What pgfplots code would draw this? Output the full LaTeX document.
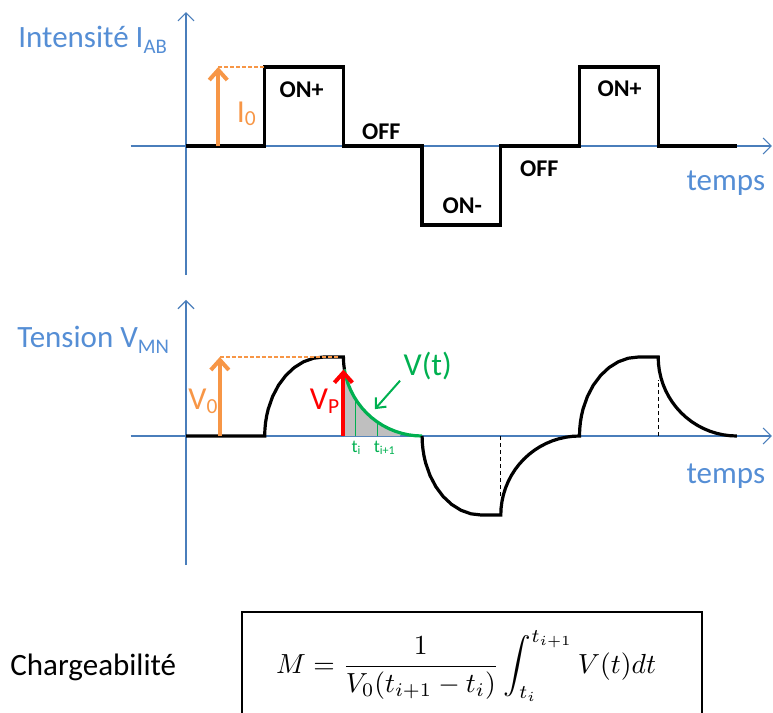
\documentclass[border=0pt]{standalone}
\usepackage{pgfplots}
\pgfplotsset{compat=1.18}
\usepackage{fontspec}
\setmainfont{Carlito}
\usepackage{graphicx}
\usetikzlibrary{arrows.meta}

\definecolor{lblue}{HTML}{558ED5}
\definecolor{axblue}{HTML}{4A7EBB}
\definecolor{orng}{HTML}{F79646}
\definecolor{grn}{HTML}{00B050}
\definecolor{shade}{HTML}{BFBFBF}

% lowered, smaller text for the subscripts
\newcommand{\lo}[2][0.2em]{\raisebox{-#1}{\scalebox{0.67}{#2}}}

\pgfplotsset{
  panel/.style={
    anchor=origin, x=39.35pt, y=39.5pt,
    xmin=-0.703, xmax=7.446,
    axis lines=middle, enlargelimits=false, ticks=none, clip=false,
    axis line style={axblue, line width=0.6pt},
    every inner x axis line/.append style={-{Straight Barb[length=4pt,width=8pt]}},
    every inner y axis line/.append style={-{Straight Barb[length=4pt,width=8pt]}},
  },
}
\tikzset{
  bigl/.style={font=\fontsize{16}{19}\selectfont, inner sep=0pt},
  labl/.style={font=\fontsize{15.5}{18}\selectfont, inner sep=0pt},
  statel/.style={font=\bfseries\fontsize{12}{14}\selectfont, inner sep=0pt, anchor=base},
}

\begin{document}
\begin{tikzpicture}
\path[use as bounding box] (0pt,0pt) rectangle (386.5pt,-356.5pt);

% ---- current I_AB ----
\begin{axis}[panel, at={(93pt,-73pt)}, ymin=-1.633, ymax=1.696]
  \addplot[black, line width=1.6pt] coordinates {
    (0,0) (1,0) (1,1) (2,1) (2,0) (3,0) (3,-1) (4,-1) (4,0) (5,0) (5,1) (6,1) (6,0) (7,0)};
  \addplot[orng, line width=0.6pt, dash pattern=on 2pt off 1pt] coordinates {(0.41,1) (1,1)};
  \addplot[orng, line width=2pt, -{Straight Barb[length=5pt,width=9pt]}] coordinates {(0.41,0) (0.41,1)};

  \node[statel] at (axis cs:1.47,0.61) {ON+};
  \node[statel] at (axis cs:2.48,0.08) {OFF};
  \node[statel] at (axis cs:3.51,-0.85) {ON-};
  \node[statel] at (axis cs:4.49,-0.39) {OFF};
  \node[statel] at (axis cs:5.51,0.63) {ON+};
  \node[bigl, text=orng, anchor=base west] at (axis cs:0.64,0.30) {I\lo[0.1em]{0}};
  \node[labl, text=lblue, anchor=base] at (axis cs:6.86,-0.56) {temps};
\end{axis}

% ---- voltage V_MN ----
\begin{axis}[panel, at={(93pt,-218pt)}, ymin=-1.633, ymax=1.722]
  % shaded area under the decay
  \addplot[draw=none, fill=shade] coordinates {
    (2.013,0) (2.013,0.84) (2.0152,0.8264) (2.0341,0.7412) (2.0603,0.658) (2.0937,0.5774)
    (2.134,0.5) (2.1808,0.4264) (2.234,0.3572) (2.2929,0.2929) (2.3572,0.234)
    (2.4264,0.1808) (2.5,0.134) (2.5774,0.0937) (2.658,0.0603) (2.72,0.04) (2.72,0)} --cycle;
  \addplot[grn, line width=0.5pt] coordinates {(2.156,0) (2.156,0.46)};
  \addplot[grn, line width=0.5pt] coordinates {(2.43,0) (2.43,0.178)};

  \addplot[black, line width=0.6pt, dash pattern=on 2pt off 1.5pt] coordinates {(4,0) (4,-0.77)};
  \addplot[black, line width=0.6pt, dash pattern=on 2pt off 1.5pt] coordinates {(6,0) (6,0.71)};

  \addplot[black, line width=1.6pt] coordinates {
    (0,0) (1,0) (1.0029,0.0872) (1.0114,0.1736) (1.0256,0.2588) (1.0452,0.342) (1.1005,0.5)
    (1.1755,0.6428) (1.2679,0.766) (1.375,0.866) (1.4935,0.9397) (1.6198,0.9848) (1.75,1)
    (2,1) (2.0038,0.9128) (2.013,0.84)};
  \addplot[grn, line width=1.6pt] coordinates {
    (2.013,0.84) (2.0152,0.8264) (2.0341,0.7412) (2.0603,0.658) (2.0937,0.5774) (2.134,0.5)
    (2.1808,0.4264) (2.234,0.3572) (2.2929,0.2929) (2.3572,0.234) (2.4264,0.1808) (2.5,0.134)
    (2.5774,0.0937) (2.658,0.0603) (2.7412,0.0341) (2.8264,0.0152) (2.9128,0.0038) (3,0)};
  \addplot[black, line width=1.6pt] coordinates {
    (3,0) (3.0029,-0.0872) (3.0114,-0.1736) (3.0256,-0.2588) (3.0452,-0.342) (3.1005,-0.5)
    (3.1755,-0.6428) (3.2679,-0.766) (3.375,-0.866) (3.4935,-0.9397) (3.6198,-0.9848) (3.75,-1)
    (4,-1) (4.0038,-0.9128) (4.0152,-0.8264) (4.0341,-0.7412) (4.0603,-0.658) (4.0937,-0.5774)
    (4.134,-0.5) (4.1808,-0.4264) (4.234,-0.3572) (4.2929,-0.2929) (4.3572,-0.234)
    (4.4264,-0.1808) (4.5,-0.134) (4.5774,-0.0937) (4.658,-0.0603) (4.7412,-0.0341)
    (4.8264,-0.0152) (4.9128,-0.0038) (5,0)
    (5.0029,0.0872) (5.0114,0.1736) (5.0256,0.2588) (5.0452,0.342) (5.1005,0.5)
    (5.1755,0.6428) (5.2679,0.766) (5.375,0.866) (5.4935,0.9397) (5.6198,0.9848) (5.75,1)
    (6,1) (6.0038,0.9128) (6.0152,0.8264) (6.0341,0.7412) (6.0603,0.658) (6.0937,0.5774)
    (6.134,0.5) (6.1808,0.4264) (6.234,0.3572) (6.2929,0.2929) (6.3572,0.234)
    (6.4264,0.1808) (6.5,0.134) (6.5774,0.0937) (6.658,0.0603) (6.7412,0.0341)
    (6.8264,0.0152) (6.9128,0.0038) (7,0)};

  \addplot[orng, line width=0.6pt, dash pattern=on 2pt off 1pt] coordinates {(0.43,1) (1.95,1)};
  \addplot[orng, line width=2pt, -{Straight Barb[length=5pt,width=9pt]}] coordinates {(0.43,0) (0.43,1)};
  \addplot[red, line width=2pt, -{Straight Barb[length=5pt,width=9pt]}] coordinates {(2,0) (2,0.84)};
  \addplot[grn, line width=1pt, -{Straight Barb[length=4pt,width=7pt]}] coordinates {(2.72,0.70) (2.40,0.34)};

  \node[bigl, text=orng, anchor=base west] at (axis cs:0.025,0.33) {V\lo[0.12em]{0}};
  \node[bigl, text=red, anchor=base west] at (axis cs:1.57,0.33) {V\lo[0.12em]{P}};
  \node[bigl, text=grn, anchor=base west] at (axis cs:2.76,0.77) {V(t)};
  \node[font=\fontsize{9}{10}\selectfont, text=grn, anchor=base, inner sep=0pt] at (axis cs:2.16,-0.215) {t\lo[0.1em]{i}};
  \node[font=\fontsize{9}{10}\selectfont, text=grn, anchor=base, inner sep=0pt] at (axis cs:2.52,-0.215) {t\lo[0.1em]{i+1}};
  \node[labl, text=lblue, anchor=base] at (axis cs:6.86,-0.595) {temps};
\end{axis}

% titles and the formula, placed in pixel units of the reference
\begin{scope}[x=0.5pt, y=-0.5pt]
  \node[labl, text=lblue, anchor=base west] at (18,47) {Intensité I\lo{AB}};
  \node[labl, text=lblue, anchor=base west] at (17,347) {Tension V\lo{MN}};
  \node[labl, anchor=base west] at (10,675) {Chargeabilité};
  \draw[line width=1pt] (242,720) -- (242,612) -- (702,612) -- (702,720);
  \node at (466,666) {\scalebox{1.38}{$\displaystyle M=\frac{1}{V_0(t_{i+1}-t_i)}\int_{t_i}^{t_{i+1}}V(t)dt$}};
\end{scope}
\end{tikzpicture}
\end{document}
